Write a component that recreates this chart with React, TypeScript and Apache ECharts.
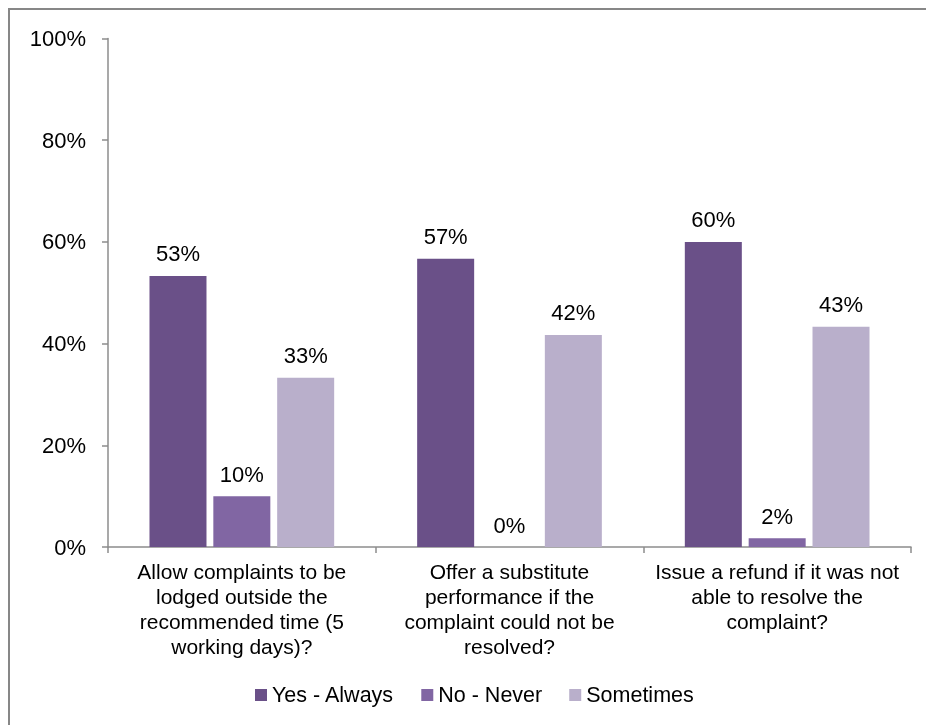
import React, { useEffect, useRef } from "react";
import * as echarts from "echarts";

const categories = [
  "Allow complaints to be\nlodged outside the\nrecommended time (5\nworking days)?",
  "Offer a substitute\nperformance if the\ncomplaint could not be\nresolved?",
  "Issue a refund if it was not\nable to resolve the\ncomplaint?",
];
const seriesNames = ["Yes - Always", "No - Never", "Sometimes"];
const yesAlways = [53.3, 56.7, 60.0];
const noNever = [10.0, 0.0, 1.7];
const sometimes = [33.3, 41.7, 43.3];
const colors = ["#6A5088", "#8166A3", "#B9AFCB"];
const yTicks = { min: 0, max: 100, interval: 20 };

const FONT = "'Liberation Sans', Arial, sans-serif";

export default function App() {
  const ref = useRef<HTMLDivElement>(null);
  useEffect(() => {
    if (!ref.current) return;
    const chart = echarts.init(ref.current, null, { renderer: "svg" });
    const values = [yesAlways, noNever, sometimes];
    chart.setOption({
      animation: false,
      textStyle: { fontFamily: FONT },
      graphic: [
        {
          type: "polyline",
          shape: { points: [[1, 717], [1, 1], [918, 1]] },
          style: { stroke: "#878787", lineWidth: 2, fill: "none" },
          silent: true,
        },
      ],
      legend: {
        left: 247,
        top: 675,
        padding: 0,
        itemWidth: 12,
        itemHeight: 12,
        itemGap: 27,
        icon: "rect",
        textStyle: { fontFamily: FONT, fontSize: 21.5, color: "#000", lineHeight: 24, padding: [0, 0, 0, 0] },
        data: seriesNames,
      },
      grid: { left: 100, right: 15, top: 30.5, bottom: 178, containLabel: false },
      xAxis: {
        type: "category",
        data: categories,
        axisLine: { lineStyle: { color: "#8c8c8c", width: 1.5 } },
        axisTick: { show: true, length: 6, lineStyle: { color: "#8c8c8c", width: 1.5 } },
        axisLabel: {
          interval: 0,
          margin: 12,
          fontFamily: FONT,
          fontSize: 21,
          lineHeight: 25,
          color: "#000",
          align: "center",
        },
      },
      yAxis: {
        type: "value",
        min: yTicks.min,
        max: yTicks.max,
        interval: yTicks.interval,
        splitLine: { show: false },
        axisLine: { show: true, lineStyle: { color: "#8c8c8c", width: 1.5 } },
        axisTick: { show: true, length: 6, lineStyle: { color: "#8c8c8c", width: 1.5 } },
        axisLabel: {
          margin: 22,
          fontFamily: FONT,
          fontSize: 22,
          color: "#000",
          formatter: "{value}%",
        },
      },
      series: seriesNames.map((name, i) => ({
        name,
        type: "bar",
        data: values[i],
        barGap: "12%",
        barCategoryGap: "31%",
        itemStyle: { color: colors[i] },
        label: {
          show: true,
          position: "top",
          distance: 11,
          fontFamily: FONT,
          fontSize: 22,
          color: "#000",
          formatter: (p: any) => Math.round(p.value) + "%",
        },
      })),
    });
    return () => chart.dispose();
  }, []);
  return (
    <div
      ref={ref}
      style={{ position: "fixed", left: 8, top: 8, width: 918, height: 717 }}
    />
  );
}
